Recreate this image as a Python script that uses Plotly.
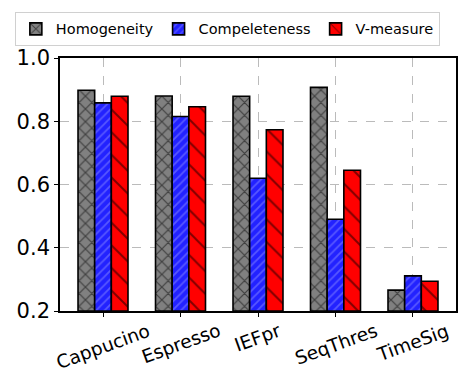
import plotly.graph_objects as go

categories = ["Cappucino", "Espresso", "IEFpr", "SeqThres", "TimeSig"]
homogeneity = [0.898, 0.880, 0.879, 0.907, 0.266]
completeness = [0.858, 0.815, 0.620, 0.490, 0.311]
v_measure = [0.879, 0.846, 0.773, 0.645, 0.294]
y_ticks = [0.2, 0.4, 0.6, 0.8, 1.0]

w = 0.215
xs = list(range(len(categories)))

series = [
    ("Homogeneity", homogeneity, -w, "#808080", "x", "black", 9, 0.25),
    ("Compeleteness", completeness, 0.0, "#2222ff", "/", "#8c8cff", 6, 0.3),
    ("V-measure", v_measure, w, "#ff0000", "\\", "black", 16, 0.12),
]

fig = go.Figure()
for name, vals, off, col, shp, fg, sz, sol in series:
    fig.add_trace(go.Bar(
        name=name,
        x=[x + off for x in xs],
        y=[v - 0.2 for v in vals],
        base=0.2,
        width=w,
        marker=dict(
            color=col,
            line=dict(color="black", width=1.6),
            pattern=dict(shape=shp, fgcolor=fg, size=sz, solidity=sol, fillmode="overlay"),
        ),
    ))

for x, lab in zip(xs, categories):
    fig.add_annotation(
        x=x, y=0, xref="x", yref="paper", text=lab, showarrow=False,
        textangle=-20, xanchor="center", yanchor="top", yshift=-6,
        font=dict(size=18.5, family="DejaVu Sans", color="black"),
    )

fig.update_layout(
    width=471, height=380,
    margin=dict(l=60, r=15, t=56, b=69),
    paper_bgcolor="white", plot_bgcolor="white",
    font=dict(family="DejaVu Sans", color="black"),
    barmode="overlay",
    showlegend=True,
    legend=dict(
        orientation="h", x=-0.114, xanchor="left",
        y=1.115, yanchor="middle",
        font=dict(size=14.5), bordercolor="#d0d0d0", borderwidth=1,
        itemwidth=30, tracegroupgap=0,
    ),
)
fig.update_xaxes(
    range=[-0.555, 4.555],
    tickmode="array", tickvals=xs, ticktext=[""] * len(xs),
    showline=True, linecolor="black", linewidth=1.6, mirror=True,
    ticks="outside", ticklen=4, tickcolor="black",
    showgrid=True, gridcolor="#bbbbbb", griddash="dash", gridwidth=1,
    zeroline=False,
)
fig.update_yaxes(
    range=[0.2, 1.0],
    tickmode="array", tickvals=y_ticks, ticktext=[f"{v:.1f}" for v in y_ticks],
    tickfont=dict(size=21),
    showline=True, linecolor="black", linewidth=1.6, mirror=True,
    ticks="outside", ticklen=4, tickcolor="black",
    showgrid=True, gridcolor="#bbbbbb", griddash="dash", gridwidth=1,
    zeroline=False,
)

fig.write_html("out.html")
